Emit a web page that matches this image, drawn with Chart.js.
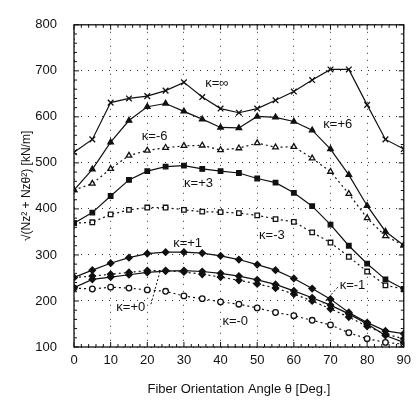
<!DOCTYPE html>
<html>
<head>
<meta charset="utf-8">
<script src="https://cdn.jsdelivr.net/npm/chart.js@4.4.1/dist/chart.umd.min.js"></script>
<style>
  html, body { margin: 0; padding: 0; background: #fff; }
  #wrap { width: 417px; height: 409px; }
</style>
</head>
<body>
<div id="wrap"><canvas id="chart" width="417" height="409"></canvas></div>
<script>
// fiber orientation angle (deg)
const angles = [0, 5, 10, 15, 20, 25, 30, 35, 40, 45, 50, 55, 60, 65, 70, 75, 80, 85, 90];

// sqrt(Nz^2 + Nztheta^2) [kN/m], one array per kappa
const kInf = [523, 551, 631, 640, 645, 657, 675, 643, 618, 609, 618, 636, 655, 680, 703, 703, 626, 551, 530];
const kP6 = [441, 486, 545, 592, 622, 629, 612, 595, 577, 576, 601, 599, 590, 571, 530, 474, 407, 351, 321];
const kM6 = [441, 455, 487, 516, 527, 533, 537, 538, 528, 532, 543, 534, 535, 510, 481, 433, 380, 341, 321];
const kP3 = [369, 392, 428, 463, 482, 492, 494, 487, 482, 478, 466, 457, 435, 406, 366, 320, 281, 247, 226];
const kM3 = [369, 371, 388, 398, 403, 403, 398, 394, 393, 391, 386, 378, 372, 349, 327, 296, 264, 234, 226];
const kP1 = [251, 267, 282, 294, 303, 306, 306, 304, 298, 290, 279, 267, 249, 227, 204, 175, 153, 135, 129];
const kM1 = [229, 247, 252, 257, 262, 265, 266, 264, 260, 254, 246, 236, 222, 207, 191, 172, 150, 125, 110];
const kP0 = [251, 254, 258, 262, 266, 266, 263, 258, 252, 245, 237, 228, 215, 200, 183, 165, 145, 128, 118];
const kM0 = [228, 226, 230, 228, 224, 221, 211, 205, 198, 193, 185, 175, 168, 158, 148, 131, 118, 110, 106];

const xTicks = [0, 10, 20, 30, 40, 50, 60, 70, 80, 90];
const yTicks = [100, 200, 300, 400, 500, 600, 700, 800];

// curve labels: [text, angle, value]
const curveLabels = [
  ['κ=∞', 39, 672],
  ['κ=+6', 72, 583],
  ['κ=-6', 22, 557],
  ['κ=+3', 34, 456],
  ['κ=-3', 54, 342],
  ['κ=+1', 31, 324],
  ['κ=+0', 15.5, 186],
  ['κ=-1', 76, 234],
  ['κ=-0', 44, 156]
];
// leader lines: [fromAngle, fromValue, toAngle, toValue]
const leaders = [
  [21, 193, 23.5, 265],
  [72, 230, 67.5, 190]
];

const FONT = 'Liberation Sans, Arial, sans-serif';

function series(label, data, style, dotted, filled) {
  return {
    label: label,
    data: data.map((v, i) => ({ x: angles[i], y: v })),
    borderColor: '#111',
    borderWidth: 1.2,
    borderDash: dotted ? [2, 3] : [],
    pointStyle: style,
    pointRadius: style === 'crossRot' ? 4 : (style === 'circle' ? 2.8 : 3.2),
    pointBorderWidth: 1.3,
    pointBorderColor: '#111',
    pointBackgroundColor: filled ? '#111' : '#fff',
    fill: false,
    tension: 0
  };
}

const frame = {
  id: 'frame',
  afterDraw(chart) {
    const { ctx, chartArea: a, scales: { x, y } } = chart;
    ctx.save();
    ctx.strokeStyle = '#111';
    ctx.lineWidth = 1.3;
    ctx.strokeRect(a.left, a.top, a.right - a.left, a.bottom - a.top);
    // minor ticks inward
    ctx.lineWidth = 1;
    ctx.beginPath();
    for (let v = 0; v <= 90; v += 2) {
      const px = x.getPixelForValue(v);
      const len = v % 10 === 0 ? 5 : 3;
      ctx.moveTo(px, a.bottom); ctx.lineTo(px, a.bottom - len);
      ctx.moveTo(px, a.top); ctx.lineTo(px, a.top + len);
    }
    for (let v = 100; v <= 800; v += 20) {
      const py = y.getPixelForValue(v);
      const len = v % 100 === 0 ? 5 : 3;
      ctx.moveTo(a.left, py); ctx.lineTo(a.left + len, py);
      ctx.moveTo(a.right, py); ctx.lineTo(a.right - len, py);
    }
    ctx.stroke();
    // leader lines
    ctx.setLineDash([2, 2]);
    ctx.beginPath();
    leaders.forEach(l => {
      ctx.moveTo(x.getPixelForValue(l[0]), y.getPixelForValue(l[1]));
      ctx.lineTo(x.getPixelForValue(l[2]), y.getPixelForValue(l[3]));
    });
    ctx.stroke();
    ctx.setLineDash([]);
    // curve labels
    ctx.fillStyle = '#111';
    ctx.font = '13px ' + FONT;
    ctx.textAlign = 'center';
    ctx.textBaseline = 'middle';
    curveLabels.forEach(l => {
      ctx.fillText(l[0], x.getPixelForValue(l[1]), y.getPixelForValue(l[2]));
    });
    ctx.restore();
  }
};

new Chart(document.getElementById('chart').getContext('2d'), {
  type: 'line',
  data: {
    datasets: [
      series('κ=∞', kInf, 'crossRot', false, false),
      series('κ=+6', kP6, 'triangle', false, true),
      series('κ=-6', kM6, 'triangle', true, false),
      series('κ=+3', kP3, 'rect', false, true),
      series('κ=-3', kM3, 'rect', true, false),
      series('κ=+1', kP1, 'rectRot', false, true),
      series('κ=-1', kM1, 'rectRot', false, true),
      series('κ=+0', kP0, 'rectRot', true, true),
      series('κ=-0', kM0, 'circle', true, false)
    ]
  },
  options: {
    responsive: false,
    animation: false,
    layout: { padding: { top: 12, right: 10, left: 0, bottom: 0 } },
    plugins: {
      legend: { display: false },
      tooltip: { enabled: false }
    },
    scales: {
      x: {
        type: 'linear',
        min: 0,
        max: 90,
        afterBuildTicks: s => { s.ticks = xTicks.map(v => ({ value: v })); },
        afterFit: s => { s.height = 62; },
        border: { display: false, dash: [1, 6] },
        grid: { color: '#333', lineWidth: 1, drawTicks: false },
        ticks: { color: '#111', font: { family: FONT, size: 13 }, padding: 6, maxRotation: 0 },
        title: {
          display: true,
          text: 'Fiber Orientation Angle θ [Deg.]',
          color: '#111',
          font: { family: FONT, size: 13 },
          padding: { top: 0, bottom: 12 }
        }
      },
      y: {
        type: 'linear',
        min: 100,
        max: 800,
        afterBuildTicks: s => { s.ticks = yTicks.map(v => ({ value: v })); },
        afterFit: s => { s.width = 74; },
        border: { display: false, dash: [1, 6] },
        grid: { color: '#333', lineWidth: 1, drawTicks: false },
        ticks: { color: '#111', font: { family: FONT, size: 13 }, padding: 17 },
        title: {
          display: true,
          text: '√(Nz² + Nzθ²) [kN/m]',
          color: '#111',
          font: { family: FONT, size: 12 },
          padding: { top: 19, bottom: 0 }
        }
      }
    }
  },
  plugins: [frame]
});
</script>
</body>
</html>
